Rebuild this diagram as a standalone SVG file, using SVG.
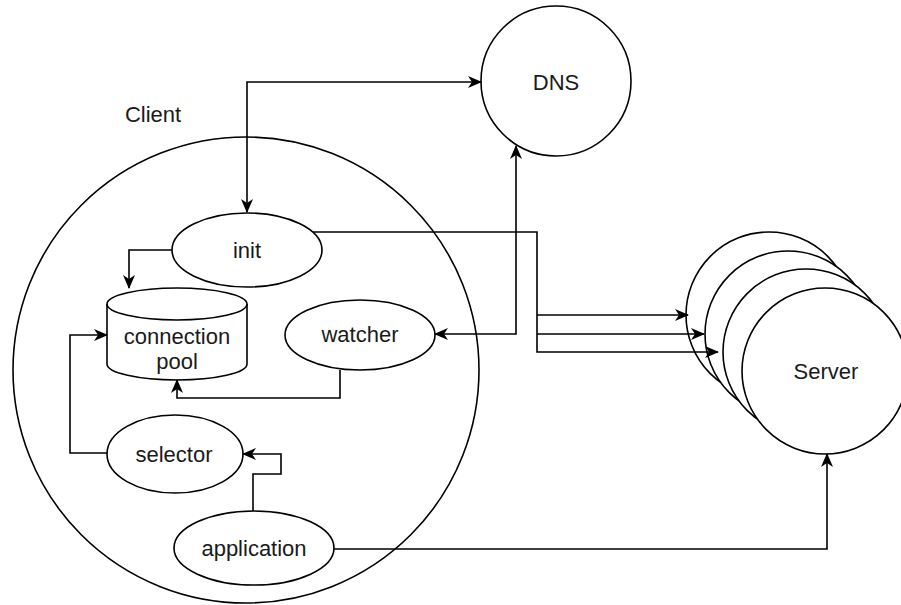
<svg xmlns="http://www.w3.org/2000/svg" width="901" height="605" viewBox="0 0 901 605">
  <defs>
    <marker id="arrow" markerUnits="userSpaceOnUse" markerWidth="14" markerHeight="12" viewBox="0 0 14 12" refX="13" refY="6" orient="auto-start-reverse">
      <path d="M0,0 L14,6 L0,12 L4,6 Z" fill="#000"/>
    </marker>
    <style>
      .shape { fill: #fff; stroke: #000; stroke-width: 1.6; }
      .edge { fill: none; stroke: #000; stroke-width: 1.6; }
      .label { font-family: "Liberation Sans", Arial, Helvetica, sans-serif; font-size: 22px; fill: #1a1a1a; text-anchor: middle; }
    </style>
  </defs>
  <rect width="901" height="605" fill="#fff"/>

  <!-- Client boundary -->
  <g id="client">
    <circle class="shape" cx="246" cy="370" r="233"/>
    <text class="label" x="153" y="122">Client</text>
  </g>

  <!-- DNS -->
  <g id="dns">
    <circle class="shape" cx="556" cy="81" r="75"/>
    <text class="label" x="556" y="90">DNS</text>
  </g>

  <!-- Server replicas, back to front -->
  <g id="server">
    <circle class="shape" cx="769" cy="315" r="83"/>
    <circle class="shape" cx="788" cy="334" r="83"/>
    <circle class="shape" cx="806" cy="352" r="83"/>
    <circle class="shape" cx="825" cy="371" r="83"/>
    <text class="label" x="826" y="379">Server</text>
  </g>

  <g id="init">
    <ellipse class="shape" cx="247" cy="250" rx="75" ry="37"/>
    <text class="label" x="247" y="258">init</text>
  </g>

  <g id="connection-pool">
    <path class="shape" d="M107,304 A70,16 0 0 1 247,304 V364 A70,16 0 0 1 107,364 Z"/>
    <path class="edge" d="M107,304 A70,16 0 0 0 247,304"/>
    <text class="label" x="177" y="344">connection</text>
    <text class="label" x="177" y="369">pool</text>
  </g>

  <g id="watcher">
    <ellipse class="shape" cx="360" cy="335" rx="75" ry="35"/>
    <text class="label" x="360" y="342">watcher</text>
  </g>

  <g id="selector">
    <ellipse class="shape" cx="175" cy="454" rx="68" ry="39"/>
    <text class="label" x="174" y="462">selector</text>
  </g>

  <g id="application">
    <ellipse class="shape" cx="254" cy="548" rx="80" ry="37"/>
    <text class="label" x="254" y="556">application</text>
  </g>

  <g id="connectors">
    <!-- init <-> DNS -->
    <path class="edge" d="M247,212 V82 H481" marker-start="url(#arrow)" marker-end="url(#arrow)"/>
    <!-- init -> connection pool -->
    <path class="edge" d="M172,250 H129 V288" marker-end="url(#arrow)"/>
    <!-- init -> servers -->
    <path class="edge" d="M313,232 H537 V352 H718" marker-end="url(#arrow)"/>
    <path class="edge" d="M537,315 H688" marker-end="url(#arrow)"/>
    <path class="edge" d="M537,334 H704" marker-end="url(#arrow)"/>
    <!-- watcher <-> DNS -->
    <path class="edge" d="M435,334 H516 V146" marker-start="url(#arrow)" marker-end="url(#arrow)"/>
    <!-- watcher -> connection pool -->
    <path class="edge" d="M340,370 V398 H177 V380" marker-end="url(#arrow)"/>
    <!-- selector -> connection pool -->
    <path class="edge" d="M107,453 H70 V335 H107" marker-end="url(#arrow)"/>
    <!-- application -> selector -->
    <path class="edge" d="M253,511 V474 H281 V454 H243" marker-end="url(#arrow)"/>
    <!-- application -> server -->
    <path class="edge" d="M334,549 H827 V454" marker-end="url(#arrow)"/>
  </g>
</svg>
